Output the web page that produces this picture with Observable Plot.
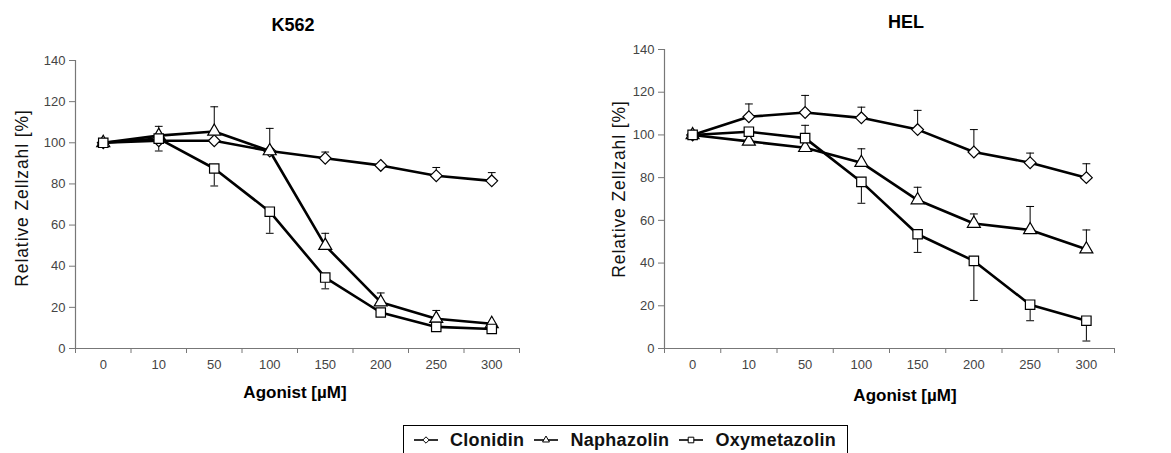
<!DOCTYPE html>
<html>
<head>
<meta charset="utf-8">
<script src="https://cdn.jsdelivr.net/npm/d3@7"></script>
<script src="https://cdn.jsdelivr.net/npm/@observablehq/plot@0.6"></script>
<style>
  html, body { margin: 0; padding: 0; background: #fff; }
  #root { position: relative; width: 1171px; height: 453px; overflow: hidden; background: #fff;
          font-family: Arial, "Liberation Sans", sans-serif; color: #000; }
  .abs { position: absolute; white-space: nowrap; }
  .title { font-weight: bold; font-size: 18px; transform: translate(-50%, -50%); }
  .xlab { font-weight: bold; font-size: 17px; transform: translate(-50%, -50%); }
  .ylab { font-size: 17.5px; transform: translate(-50%, -50%) rotate(-90deg); letter-spacing: 0.9px; color: #111; }
  #legend { left: 403px; top: 425px; width: 445px; height: 30px; border: 1px solid #000; box-sizing: border-box;
            display: flex; align-items: center; font-weight: bold; font-size: 18px; letter-spacing: 0.3px;
            padding-left: 9px; color: #111; }
  #legend span.item { display: inline-flex; align-items: center; margin-right: 9px; }
  #legend svg { margin-right: 11px; }
</style>
</head>
<body>
<div id="root">
  <div class="abs title" style="left:293px; top:25px;">K562</div>
  <div class="abs title" style="left:906px; top:22px;">HEL</div>
  <div class="abs ylab" style="left:22px; top:198px;">Relative Zellzahl [%]</div>
  <div class="abs ylab" style="left:619px; top:189px;">Relative Zellzahl [%]</div>
  <div class="abs xlab" style="left:295px; top:393px;">Agonist [µM]</div>
  <div class="abs xlab" style="left:905px; top:396px;">Agonist [µM]</div>
  <div id="left" class="abs" style="left:0px; top:0px;"></div>
  <div id="right" class="abs" style="left:590px; top:0px;"></div>
  <div id="legend" class="abs"></div>
</div>
<script>
// ---- data ----
const categories = ["0", "10", "50", "100", "150", "200", "250", "300"];
const seriesNames = ["Clonidin", "Naphazolin", "Oxymetazolin"];
const yTicks = [0, 20, 40, 60, 80, 100, 120, 140];

// K562
const k562Clonidin      = [100, 101, 101, 96, 92.5, 89, 84, 81.5];
const k562ClonidinSD    = [0, 0, 0, 0, 3, 0, 4, 4];
const k562Naphazolin    = [100, 103.5, 105.5, 96, 50, 22.5, 14.5, 12];
const k562NaphazolinSD  = [0, 4.5, 12, 11, 6, 4.5, 4, 0];
const k562Oxymetazolin  = [100, 102, 87.5, 66.5, 34.5, 17.5, 10.5, 9.5];
const k562OxymetazolinSD= [0, 6, 8.5, 10.5, 5.5, 0, 0, 0];

// HEL
const helClonidin       = [100, 108.5, 110.5, 108, 102.5, 92, 87, 80];
const helClonidinSD     = [0, 6, 8, 5, 9, 10.5, 4.5, 6.5];
const helNaphazolin     = [100, 97, 94, 87, 69.5, 58.5, 55.5, 46.5];
const helNaphazolinSD   = [0, 0, 10.5, 6.5, 6, 4.5, 11, 9];
const helOxymetazolin   = [100, 101.5, 98.5, 78, 53.5, 41, 20.5, 13];
const helOxymetazolinSD = [0, 0, 0, 10, 8.5, 18.5, 7.5, 9.5];

// error bar direction per series (plus for ◇/△, minus for □)
const errDirection = [1, 1, -1];

function buildRows(valuesList, sdList) {
  const rows = [];
  valuesList.forEach((vals, s) => {
    vals.forEach((v, i) => {
      rows.push({series: seriesNames[s], i, v, e: v + errDirection[s] * sdList[s][i], sd: sdList[s][i]});
    });
  });
  return rows;
}

const symbolOf = {Clonidin: d3.symbolDiamond2, Naphazolin: d3.symbolTriangle2, Oxymetazolin: d3.symbolSquare2};
const rOf = {Clonidin: 5.3, Naphazolin: 6.2, Oxymetazolin: 6.0};

function chart(rows, m) {
  const errs = rows.filter(d => d.sd > 0);
  const font = 'Arial, "Liberation Sans", sans-serif';
  return Plot.plot({
    width: 560, height: 420,
    marginLeft: m.left, marginRight: m.right, marginTop: m.top, marginBottom: m.bottom,
    style: {fontFamily: font, fontSize: "13px", color: "#444", background: "transparent", overflow: "visible"},
    x: {domain: [-0.5, categories.length - 0.5], axis: null},
    y: {domain: [0, 140], axis: null},
    marks: [
      Plot.axisY({ticks: yTicks, tickSize: 6, tickPadding: 4, label: null, stroke: "#777", fontSize: 13}),
      Plot.axisX({ticks: d3.range(categories.length), tickSize: 0, tickPadding: 11, tickFormat: i => categories[i], label: null, fontSize: 13}),
      Plot.axisX({ticks: d3.range(categories.length + 1).map(i => i - 0.5), tickSize: 5, tickFormat: () => "", label: null, stroke: "#777"}),
      Plot.ruleX([-0.5], {y1: 0, y2: 140, stroke: "#777", strokeWidth: 1.2}),
      Plot.ruleY([0], {x1: -0.5, x2: categories.length - 0.5, stroke: "#777", strokeWidth: 1.2}),
      Plot.ruleX(errs, {x: "i", y1: "v", y2: "e", stroke: "#000", strokeWidth: 1}),
      Plot.link(errs, {x1: d => d.i - 0.07, x2: d => d.i + 0.07, y1: "e", y2: "e", stroke: "#000", strokeWidth: 1}),
      Plot.line(rows, {x: "i", y: "v", z: "series", stroke: "#000", strokeWidth: 2.6}),
      ...seriesNames.map(s => Plot.dot(rows.filter(d => d.series === s),
        {x: "i", y: "v", symbol: () => symbolOf[s], r: rOf[s], fill: "#fff", stroke: "#000", strokeWidth: 1.2}))
    ],
    symbol: {type: "identity"}
  });
}

const k562Rows = buildRows([k562Clonidin, k562Naphazolin, k562Oxymetazolin],
                           [k562ClonidinSD, k562NaphazolinSD, k562OxymetazolinSD]);
const helRows = buildRows([helClonidin, helNaphazolin, helOxymetazolin],
                          [helClonidinSD, helNaphazolinSD, helOxymetazolinSD]);

document.getElementById("left").appendChild(chart(k562Rows, {left: 75, right: 41, top: 60, bottom: 72}));
document.getElementById("right").appendChild(chart(helRows, {left: 74, right: 36, top: 49, bottom: 72}));

// legend
const legend = document.getElementById("legend");
seriesNames.forEach(s => {
  const item = document.createElement("span");
  item.className = "item";
  const svg = d3.create("svg").attr("width", 26).attr("height", 14);
  svg.append("line").attr("x1", 1).attr("x2", 25).attr("y1", 7).attr("y2", 7).attr("stroke", "#000").attr("stroke-width", 1.6);
  const size = s === "Naphazolin" ? 34 : (s === "Clonidin" ? 26 : 40);
  svg.append("path").attr("transform", "translate(13,7)")
     .attr("d", d3.symbol(symbolOf[s], size)())
     .attr("fill", "#fff").attr("stroke", "#000").attr("stroke-width", 1);
  item.appendChild(svg.node());
  const t = document.createElement("span");
  t.textContent = s;
  item.appendChild(t);
  legend.appendChild(item);
});
</script>
</body>
</html>
